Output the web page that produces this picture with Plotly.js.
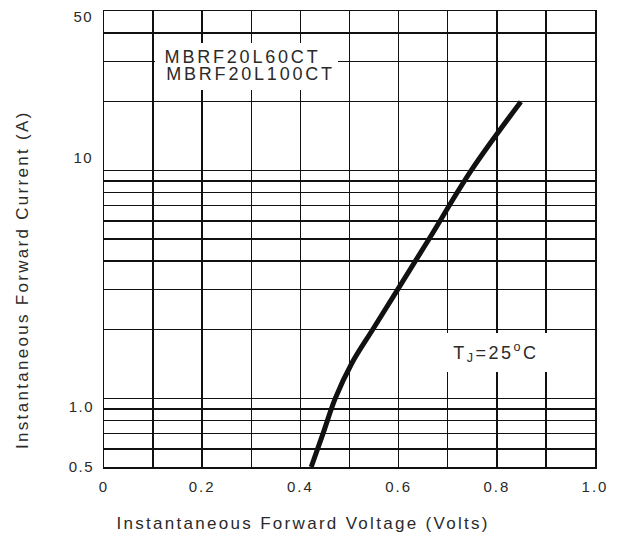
<!DOCTYPE html>
<html>
<head>
<meta charset="utf-8">
<script src="https://cdn.plot.ly/plotly-3.0.1.min.js"></script>
<style>
  html, body { margin: 0; padding: 0; background: #fff; }
  #chart { width: 620px; height: 538px; }
  .main-svg .xtick text { letter-spacing: 2px; }
  g.annotation[data-index="0"] text, g.annotation[data-index="1"] text,
  g.annotation[data-index="2"] text, g.annotation[data-index="3"] text { letter-spacing: 1.5px; }
  g.annotation[data-index="4"] text, g.annotation[data-index="5"] text { letter-spacing: 2.8px; }
  g.annotation[data-index="6"] text { letter-spacing: 2.5px; }
  g.annotation[data-index="7"] text { letter-spacing: 2.3px; }
  g.annotation[data-index="8"] text { letter-spacing: 2.3px; }
</style>
</head>
<body>
<div id="chart"></div>
<script>
// Forward voltage (V) and forward current (A)
const voltage = [0.422, 0.446, 0.471, 0.505, 0.547, 0.598, 0.662, 0.748, 0.849];
const current = [0.5, 0.7, 1.0, 1.43, 2.0, 3.0, 5.0, 10, 20];

// Axis ticks / gridlines
const xTickVals = [0, 0.2, 0.4, 0.6, 0.8, 1.0];
const xTickText = ["0", "0.2", "0.4", "0.6", "0.8", "1.0"];
const yGridVals = [0.5, 0.6, 0.7, 0.8, 0.9, 1, 2, 3, 4, 5, 6, 7, 8, 9, 10, 20, 30, 40, 50];
const yLabelVals = [0.5, 1, 10, 50];
const yLabelText = ["0.5", "1.0", "10", "50"];
const yLabelShift = [1, -8, 13, -5];

const partLabels = ["MBRF20L60CT", "MBRF20L100CT"];
const tempLabel = "T<sub>J</sub>=25<sup>o</sup>C";
const xTitle = "Instantaneous Forward Voltage (Volts)";
const yTitle = "Instantaneous Forward Current (A)";

const textColor = "#2a2a2a";
const fontFam = "'Liberation Sans', Arial, sans-serif";

// plot area in pixels: x 104..595, y 11..467
const PT = 11, PH = 456, PL = 104, PW = 491;
const py = (p) => 1 - (p - PT) / PH;
const px = (p) => (p - PL) / PW;

const annotations = [];
yLabelVals.forEach((v, i) => {
  annotations.push({
    xref: "paper", yref: "y", x: 0, y: Math.log10(v),
    text: yLabelText[i], showarrow: false,
    xanchor: "right", yanchor: "middle", xshift: -10, yshift: yLabelShift[i],
    font: { family: fontFam, size: 15, color: textColor }
  });
});
const partCenters = [[242, 57], [250, 74]];
partLabels.forEach((t, i) => {
  annotations.push({
    xref: "paper", yref: "paper", x: px(partCenters[i][0]), y: py(partCenters[i][1]),
    text: t, showarrow: false, xanchor: "center", yanchor: "middle",
    font: { family: fontFam, size: 18, color: textColor }
  });
});
annotations.push({
  xref: "paper", yref: "paper", x: px(496), y: py(352),
  text: tempLabel, showarrow: false, xanchor: "center", yanchor: "middle",
  font: { family: fontFam, size: 18, color: textColor }
});
annotations.push({
  xref: "paper", yref: "paper", x: px(303), y: py(523),
  text: xTitle, showarrow: false, xanchor: "center", yanchor: "middle",
  font: { family: fontFam, size: 17, color: textColor }
});
annotations.push({
  xref: "paper", yref: "paper", x: px(22), y: py(280), textangle: -90,
  text: yTitle, showarrow: false, xanchor: "center", yanchor: "middle",
  font: { family: fontFam, size: 17, color: textColor }
});

const trace = {
  x: voltage, y: current, type: "scatter", mode: "lines",
  line: { color: "#111", width: 5, shape: "spline", smoothing: 1 },
  hoverinfo: "skip"
};

const gridCol = "#111";
const layout = {
  width: 620, height: 538,
  margin: { l: 104, r: 25, t: 11, b: 71 },
  paper_bgcolor: "#fff", plot_bgcolor: "#fff",
  showlegend: false,
  font: { family: fontFam, size: 15, color: textColor },
  xaxis: {
    range: [0, 1], tickmode: "array", tickvals: xTickVals, ticktext: xTickText,
    showgrid: true, gridcolor: gridCol, gridwidth: 1.5,
    minor: { tick0: 0, dtick: 0.1, showgrid: true, gridcolor: gridCol, gridwidth: 1.5, ticks: "" },
    showline: true, linecolor: gridCol, linewidth: 1.5, mirror: true,
    ticks: "", zeroline: false, ticklabelstandoff: 5,
    tickfont: { family: fontFam, size: 15, color: textColor }
  },
  yaxis: {
    type: "log", range: [Math.log10(0.5), Math.log10(50)],
    tickmode: "array", tickvals: yGridVals, showticklabels: false,
    showgrid: true, gridcolor: gridCol, gridwidth: 1.5,
    showline: true, linecolor: gridCol, linewidth: 1.5, mirror: true,
    ticks: "", zeroline: false
  },
  shapes: [
    { type: "rect", xref: "paper", yref: "paper", layer: "above",
      x0: px(155), x1: px(338), y0: py(90), y1: py(43),
      fillcolor: "#fff", line: { width: 0 } },
    { type: "rect", xref: "paper", yref: "paper", layer: "above",
      x0: px(420), x1: px(572), y0: py(372), y1: py(333),
      fillcolor: "#fff", line: { width: 0 } }
  ],
  annotations: annotations
};

Plotly.newPlot("chart", [trace], layout, { staticPlot: true, displayModeBar: false });
</script>
</body>
</html>
